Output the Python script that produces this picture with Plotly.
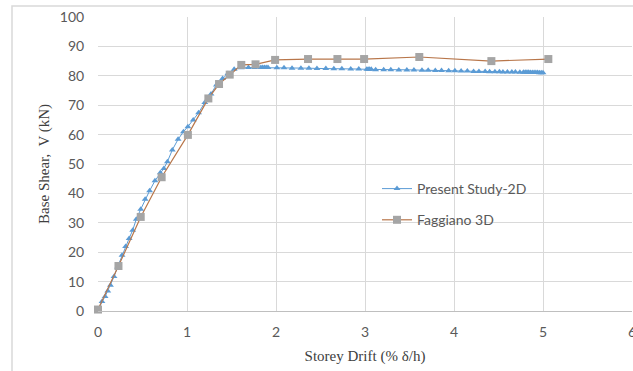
import plotly.graph_objects as go

# Present Study-2D
present_x = [0.0, 0.045, 0.08, 0.11, 0.14, 0.18, 0.22, 0.27, 0.31, 0.35, 0.39, 0.43, 0.48, 0.53,
             0.58, 0.64, 0.70, 0.74, 0.78, 0.835, 0.90, 0.96, 1.01, 1.07, 1.13, 1.20, 1.27, 1.33,
             1.40, 1.46, 1.53, 1.61, 1.69, 1.76, 1.83, 1.85, 1.87, 1.89, 1.91, 2.01, 2.09, 2.18,
             2.28, 2.37, 2.46, 2.56, 2.65, 2.74, 2.84, 2.93, 3.02, 3.035, 3.05, 3.07, 3.12, 3.21,
             3.29, 3.38, 3.47, 3.55, 3.64, 3.71, 3.79, 3.86, 3.94, 4.01, 4.08, 4.15, 4.22, 4.28,
             4.35, 4.40, 4.46, 4.51, 4.55, 4.60, 4.65, 4.69, 4.74, 4.78, 4.80, 4.82, 4.84, 4.86,
             4.88, 4.90, 4.92, 4.94, 4.96, 4.98, 5.00]
present_y = [0.0, 3.2, 4.9, 6.8, 8.8, 11.7, 15.0, 19.0, 21.9, 24.7, 27.5, 31.2, 34.6, 38.0,
             40.9, 44.3, 47.0, 48.5, 50.8, 54.8, 58.4, 61.0, 62.7, 65.0, 67.4, 70.9, 73.8, 76.9,
             79.1, 80.8, 82.2, 82.7, 82.8, 82.8, 82.8, 82.8, 82.8, 82.8, 82.8, 82.7, 82.7, 82.6,
             82.6, 82.6, 82.5, 82.5, 82.4, 82.4, 82.3, 82.3, 82.2, 82.2, 82.2, 82.2, 82.1, 82.1,
             82.1, 82.0, 82.0, 82.0, 81.9, 81.9, 81.8, 81.8, 81.7, 81.7, 81.6, 81.6, 81.5, 81.5,
             81.5, 81.4, 81.4, 81.4, 81.3, 81.3, 81.3, 81.3, 81.2, 81.2, 81.2, 81.2, 81.2, 81.1,
             81.1, 81.1, 81.1, 81.1, 81.0, 81.0, 81.0]

# Faggiano 3D
fagg_x = [0.0, 0.23, 0.48, 0.715, 1.01, 1.24, 1.36, 1.48, 1.61, 1.77, 1.99, 2.36, 2.69, 2.99,
          3.61, 4.42, 5.06]
fagg_y = [0.5, 15.3, 32.0, 45.5, 59.9, 72.3, 77.2, 80.4, 83.7, 83.9, 85.4, 85.7, 85.7, 85.7,
          86.4, 85.0, 85.7]

x_ticks = [0, 1, 2, 3, 4, 5, 6]
y_ticks = [0, 10, 20, 30, 40, 50, 60, 70, 80, 90, 100]

fig = go.Figure()
fig.add_trace(go.Scatter(
    x=present_x, y=present_y, mode="lines+markers", name="Present Study-2D",
    legendgroup="a",
    line=dict(color="#5B9BD5", width=1),
    marker=dict(symbol="triangle-up", size=6, color="#5B9BD5"),
    cliponaxis=False,
))
fig.add_trace(go.Scatter(
    x=fagg_x, y=fagg_y, mode="lines+markers", name="Faggiano 3D",
    legendgroup="b",
    line=dict(color="#B8764A", width=1.2),
    marker=dict(symbol="square", size=8, color="#A5A5A5"),
    cliponaxis=False,
))

W, H = 633, 371
L, R, T, B = 98, 1, 17, 60
pw = W - L - R
ph = H - T - B

fig.add_shape(type="rect", xref="paper", yref="paper",
              x0=(12 - L) / pw, x1=1.2, y0=-1.0, y1=(H - B - 6) / ph,
              line=dict(color="#D9D9D9", width=1.5), fillcolor="rgba(0,0,0,0)", layer="below")

fig.update_layout(
    width=W, height=H,
    margin=dict(l=L, r=R, t=T, b=B, autoexpand=False),
    paper_bgcolor="white", plot_bgcolor="white",
    font=dict(family="Lato, Carlito, Calibri, sans-serif", size=14, color="#595959"),
    legend=dict(x=(377 - L) / pw, y=(H - B - 173) / ph, xanchor="left", yanchor="top",
                bgcolor="rgba(0,0,0,0)", font=dict(size=14, color="#595959"),
                tracegroupgap=10, traceorder="grouped"),
    xaxis=dict(range=[0, 6], tickvals=x_ticks, showgrid=True, gridcolor="#D9D9D9",
               gridwidth=1, zeroline=False, showline=True, linecolor="#BFBFBF",
               automargin=False, ticklabeloverflow="allow",
               ticks="outside", ticklen=8, tickcolor="rgba(0,0,0,0)",
               title=dict(text="Storey Drift (% δ/h)", standoff=11,
                          font=dict(family="Liberation Serif, Times New Roman, serif",
                                    size=15, color="#404040"))),
    yaxis=dict(range=[0, 100], tickvals=y_ticks, showgrid=True, gridcolor="#D9D9D9",
               gridwidth=1, zeroline=False, showline=False,
               automargin=False,
               ticks="outside", ticklen=10, tickcolor="rgba(0,0,0,0)",
               title=dict(text="Base Shear,  V (kN)", standoff=6,
                          font=dict(family="Liberation Serif, Times New Roman, serif",
                                    size=15, color="#404040"))),
)

fig.write_html("out.html", config={"displayModeBar": False},
               post_script="document.body.style.margin='0';document.body.style.overflow='hidden';")
